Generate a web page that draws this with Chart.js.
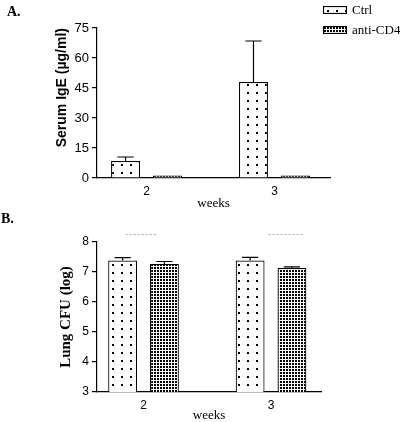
<!DOCTYPE html>
<html>
<head>
<meta charset="utf-8">
<script src="https://cdn.jsdelivr.net/npm/chart.js@4.4.0/dist/chart.umd.min.js"></script>
<style>
  body { margin: 0; background: #fff; width: 400px; height: 422px; position: relative; overflow: hidden; }
  canvas.chart { position: absolute; left: 0; }
  .panel { position: absolute; font: bold 14px "Liberation Serif", serif; color: #000; }
  .leg { position: absolute; left: 323px; height: 13px; display: flex; align-items: center;
         font: 13px "Liberation Serif", serif; color: #000; white-space: nowrap; }
  .leg span { margin-left: 5px; }
</style>
</head>
<body>
<canvas id="chartA" class="chart" width="400" height="212" style="top:0"></canvas>
<canvas id="chartB" class="chart" width="400" height="210" style="top:212px"></canvas>
<div class="panel" style="left:7px;top:4px">A.</div>
<div class="panel" style="left:1px;top:211px">B.</div>
<div class="leg" style="top:3px"><canvas id="legCtrl" width="24" height="8"></canvas><span>Ctrl</span></div>
<div class="leg" style="top:23px"><canvas id="legAnti" width="24" height="8"></canvas><span>anti-CD4</span></div>
<script>
// data
const weeks = [2, 3]
const seriesNames = ['Ctrl', 'anti-CD4']

// A. serum IgE (µg/ml)
const ctrlIgE = [8.5, 48]
const ctrlIgEErr = [2, 20.5]
const antiIgE = [1.2, 1.2]
const antiIgEErr = [0, 0]
const igeTicks = [0, 15, 30, 45, 60, 75]

// B. lung CFU (log)
const ctrlCFU = [7.38, 7.38]
const ctrlCFUErr = [0.1, 0.11]
const antiCFU = [7.27, 7.13]
const antiCFUErr = [0.08, 0.04]
const cfuTicks = [3, 4, 5, 6, 7, 8]

// faint dashed lines above the groups in B
const sigY = 8.28
const sigFrom = [1.86, 2.98]
const sigTo = [2.11, 3.25]

function makePattern(w, h, dot) {
  const c = document.createElement('canvas')
  c.width = w
  c.height = h
  const g = c.getContext('2d')
  g.fillStyle = '#fff'
  g.fillRect(0, 0, w, h)
  g.fillStyle = '#000'
  g.fillRect(Math.floor(w / 2), Math.floor(h / 2), dot, dot)
  return g.createPattern(c, 'repeat')
}

const sparseDots = makePattern(9, 8, 2)
const denseDots = makePattern(3, 3, 2)

// legend boxes
;[['legCtrl', sparseDots], ['legAnti', denseDots]].forEach(([id, pat]) => {
  const c = document.getElementById(id)
  const g = c.getContext('2d')
  g.fillStyle = pat
  g.fillRect(0, 0, c.width, c.height)
  g.strokeStyle = '#000'
  g.lineWidth = 1.2
  g.strokeRect(0.5, 0.5, c.width - 1, c.height - 1)
})

const errorBars = {
  id: 'errorBars',
  afterDatasetsDraw(chart) {
    const ctx = chart.ctx
    const y = chart.scales.y
    chart.data.datasets.forEach((ds, i) => {
      const meta = chart.getDatasetMeta(i)
      meta.data.forEach((bar, j) => {
        const err = ds.errors[j]
        if (!err) return
        const top = y.getPixelForValue(ds.data[j].y + err)
        const half = bar.width * 0.28
        ctx.save()
        ctx.strokeStyle = '#000'
        ctx.lineWidth = 1.2
        ctx.beginPath()
        ctx.moveTo(bar.x, bar.y)
        ctx.lineTo(bar.x, top)
        ctx.moveTo(bar.x - half, top)
        ctx.lineTo(bar.x + half, top)
        ctx.stroke()
        ctx.restore()
      })
    })
  }
}

const sigLines = {
  id: 'sigLines',
  afterDatasetsDraw(chart) {
    const { ctx, scales: { x, y } } = chart
    const py = Math.round(y.getPixelForValue(sigY)) + 0.5
    ctx.save()
    ctx.strokeStyle = '#aaa'
    ctx.lineWidth = 1
    ctx.setLineDash([2, 2])
    sigFrom.forEach((f, i) => {
      ctx.beginPath()
      ctx.moveTo(x.getPixelForValue(f), py)
      ctx.lineTo(x.getPixelForValue(sigTo[i]), py)
      ctx.stroke()
    })
    ctx.restore()
  }
}

function barSet(label, values, errors, pattern) {
  return {
    label: label,
    data: weeks.map((w, i) => ({ x: w, y: values[i] })),
    errors: errors,
    backgroundColor: pattern,
    borderColor: '#000',
    borderWidth: 1.2,
    categoryPercentage: 0.656,
    barPercentage: 0.69
  }
}

function makeChart(id, cfg) {
  return new Chart(document.getElementById(id).getContext('2d'), {
    type: 'bar',
    data: {
      datasets: [
        barSet(seriesNames[0], cfg.ctrl, cfg.ctrlErr, sparseDots),
        barSet(seriesNames[1], cfg.anti, cfg.antiErr, denseDots)
      ]
    },
    plugins: cfg.plugins,
    options: {
      responsive: false,
      animation: false,
      layout: { padding: cfg.padding },
      plugins: {
        legend: { display: false },
        tooltip: { enabled: false }
      },
      scales: {
        x: {
          type: 'linear',
          min: cfg.xMin,
          max: cfg.xMax,
          offset: false,
          afterBuildTicks: (s) => { s.ticks = weeks.map(v => ({ value: v })) },
          ticks: { color: '#000', font: { family: 'Liberation Sans', size: 12 }, padding: 6, maxRotation: 0, autoSkip: false },
          grid: { display: false, drawTicks: false },
          border: { display: true, color: '#000', width: 1.2 },
          title: {
            display: true, text: 'weeks', color: '#000',
            font: { family: 'Liberation Serif', size: 13, lineHeight: 1 },
            padding: { top: 0, bottom: cfg.weeksPad }
          },
          afterFit: (s) => { s.height = cfg.xHeight }
        },
        y: {
          min: cfg.yTicks[0],
          max: cfg.yTicks[cfg.yTicks.length - 1],
          ticks: {
            stepSize: cfg.yTicks[1] - cfg.yTicks[0],
            color: '#000',
            font: { family: 'Liberation Sans', size: cfg.tickSize },
            padding: 3
          },
          grid: { drawOnChartArea: false, drawTicks: true, tickLength: 5, color: '#000', lineWidth: 1.2 },
          border: { color: '#000', width: 1.2 },
          title: {
            display: true, text: cfg.yTitle, color: '#000', align: cfg.titleAlign,
            font: cfg.titleFont,
            padding: { top: cfg.titlePad, bottom: 0 }
          },
          afterFit: (s) => { s.width = 47 }
        }
      }
    }
  })
}

makeChart('chartA', {
  ctrl: ctrlIgE, ctrlErr: ctrlIgEErr, anti: antiIgE, antiErr: antiIgEErr,
  yTicks: igeTicks, yTitle: 'Serum IgE (µg/ml)', titleAlign: 'end',
  titleFont: { family: 'Liberation Sans', size: 14, weight: 'bold' }, titlePad: 4,
  tickSize: 13, xMin: 1.613, xMax: 3.434, xHeight: 34, weeksPad: 2,
  padding: { left: 50, top: 28, right: 70, bottom: 0 },
  plugins: [errorBars]
})

makeChart('chartB', {
  ctrl: ctrlCFU, ctrlErr: ctrlCFUErr, anti: antiCFU, antiErr: antiCFUErr,
  yTicks: cfuTicks, yTitle: 'Lung CFU (log)', titleAlign: 'center',
  titleFont: { family: 'Liberation Serif', size: 15, weight: 'bold' }, titlePad: 7,
  tickSize: 12, xMin: 1.635, xMax: 3.392, xHeight: 30, weeksPad: 0,
  padding: { left: 50, top: 30, right: 79, bottom: 0 },
  plugins: [errorBars, sigLines]
})
</script>
</body>
</html>
